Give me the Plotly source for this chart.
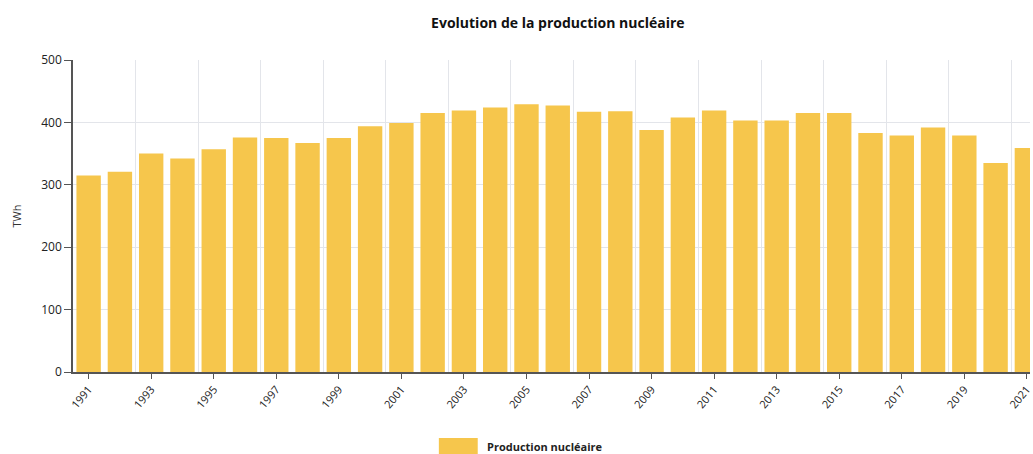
import plotly.graph_objects as go

years = list(range(1991, 2022))
production = [315, 321, 350, 342, 357, 376, 375, 367, 375, 394,
              399, 415, 419, 424, 429, 427, 417, 418, 388, 408,
              419, 403, 403, 415, 415, 383, 379, 392, 379, 335, 359]
tick_years = list(range(1991, 2022, 2))
y_ticks = [0, 100, 200, 300, 400, 500]

BAR = "#F6C64C"
GRID = "#E3E5EA"
AXIS = "#555555"
FONT = "Open Sans"

fig = go.Figure()
fig.add_trace(go.Bar(x=years, y=production, marker_color=BAR, marker_line_width=0,
                     name="Production nucléaire", showlegend=False))

fig.update_layout(
    width=1033, height=454,
    margin=dict(l=73, r=0, t=60, b=82),
    plot_bgcolor="white", paper_bgcolor="white",
    bargap=0.22,
    font=dict(family=FONT, size=11, color="#333333"),
    title=dict(text="<b>Evolution de la production nucléaire</b>",
               x=0.540, xref="container", xanchor="center",
               y=1 - 23 / 454, yref="container", yanchor="middle",
               font=dict(family=FONT, size=14, color="#111111")),
    xaxis=dict(range=[1990.5, 2021.1], tickmode="array", tickvals=tick_years,
               ticktext=[str(y) for y in tick_years], tickangle=-50,
               ticklabeloverflow="allow",
               showgrid=False, showline=True, linecolor=AXIS, linewidth=1.5,
               ticks="outside", ticklen=5, tickcolor=AXIS,
               tickfont=dict(size=11, color="#222222"),
               minor=dict(tickmode="linear", tick0=1992.5, dtick=2, showgrid=True,
                          gridcolor=GRID, gridwidth=1, ticklen=0)),
    yaxis=dict(range=[0, 500], tickmode="array", tickvals=y_ticks,
               showgrid=True, gridcolor=GRID, gridwidth=1,
               showline=True, linecolor=AXIS, linewidth=1.5,
               ticks="outside", ticklen=7, tickcolor=AXIS,
               tickfont=dict(size=12, color="#222222"),
               zeroline=False,
               title=dict(text="TWh", standoff=17, font=dict(size=11, color="#333333"))),
)

# legend drawn as a swatch + label below the plot
fig.add_shape(type="rect", xref="paper", yref="paper",
              x0=(440 - 73) / 960, x1=(479 - 73) / 960,
              y0=(372 - 458) / 312, y1=(372 - 438) / 312,
              fillcolor=BAR, line_width=0)
fig.add_annotation(text="<b>Production nucléaire</b>", xref="paper", yref="paper",
                   x=(486 - 73) / 960, y=(372 - 446) / 312, xanchor="left", yanchor="middle",
                   showarrow=False, font=dict(family=FONT, size=11, color="#222222"))

fig.write_html("out.html", config={"displayModeBar": False},
               post_script="document.body.style.margin='0';")
